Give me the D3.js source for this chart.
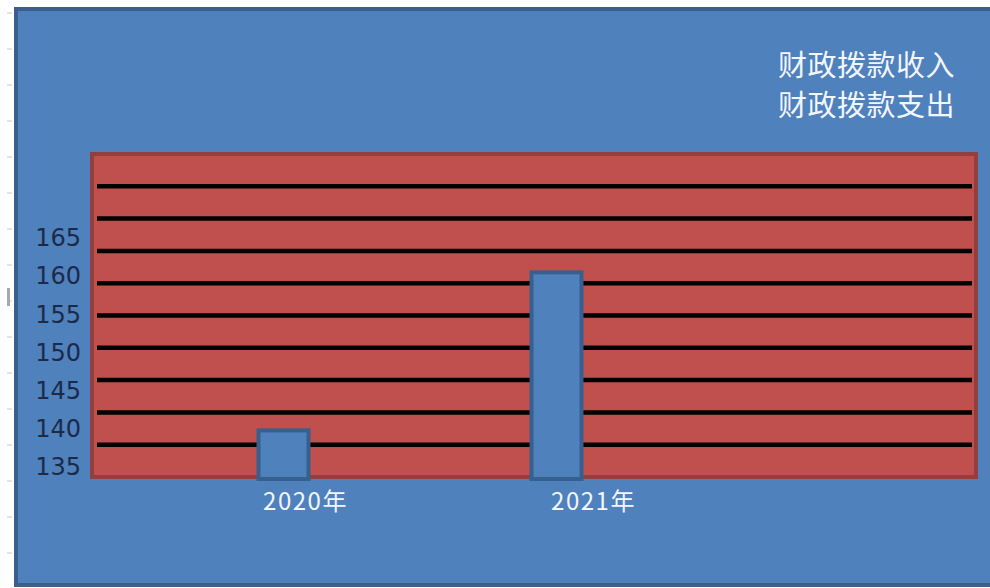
<!DOCTYPE html>
<html>
<head>
<meta charset="utf-8">
<script src="https://cdn.jsdelivr.net/npm/d3@7"></script>
<style>
  body { margin: 0; background: #fff; }
  svg { display: block; }
</style>
</head>
<body>
<svg id="chart"></svg>
<script>
const years = ["2020年", "2021年"];
const income = [139.8, 160.5];
const seriesNames = ["财政拨款收入", "财政拨款支出"];
const tickLabels = [135, 140, 145, 150, 155, 160, 165];
const gridValues = [140, 145, 150, 155, 160, 165, 170, 175, 180];

const size = { width: 990, height: 588 };
const plot = { left: 92, right: 976, top: 154, bottom: 477 };

const svg = d3.select("#chart")
  .attr("width", size.width)
  .attr("height", size.height);

// spreadsheet ruler on the left edge
svg.selectAll(".ruler")
  .data(d3.range(13, 588, 36))
  .join("line")
  .attr("x1", 7).attr("x2", 12)
  .attr("y1", d => d).attr("y2", d => d)
  .attr("stroke", "#c8c8c8");
svg.append("rect")
  .attr("x", 7).attr("y", 288).attr("width", 3).attr("height", 18)
  .attr("fill", "#a8a8a8");

// chart area
svg.append("rect")
  .attr("x", 16).attr("y", 9)
  .attr("width", 990).attr("height", 576)
  .attr("fill", "#4f81bd")
  .attr("stroke", "#3a5f8c")
  .attr("stroke-width", 4);

// scales: gridlines and labels in the original do not share spacing
const yGrid = d3.scaleLinear()
  .domain([135, 185])
  .range([plot.bottom, plot.top]);

const y = d3.scaleLinear()
  .domain([135, 165])
  .range([467, 238]);

const x = d3.scalePoint()
  .domain(years)
  .range([283.5, 556.5]);

const barWidth = 50;

// plot area
svg.append("rect")
  .attr("x", plot.left).attr("y", plot.top)
  .attr("width", plot.right - plot.left)
  .attr("height", plot.bottom - plot.top)
  .attr("fill", "#c0504d")
  .attr("stroke", "#93403d")
  .attr("stroke-width", 4);

svg.append("g")
  .selectAll("line")
  .data(gridValues)
  .join("line")
  .attr("x1", plot.left + 5)
  .attr("x2", plot.right - 4)
  .attr("y1", d => yGrid(d))
  .attr("y2", d => yGrid(d))
  .attr("stroke", "#000")
  .attr("stroke-width", 4.5);

// bars
svg.append("g")
  .selectAll("rect")
  .data(income)
  .join("rect")
  .attr("x", (d, i) => x(years[i]) - barWidth / 2)
  .attr("y", d => y(d))
  .attr("width", barWidth)
  .attr("height", d => plot.bottom + 2 - y(d))
  .attr("fill", "#4f81bd")
  .attr("stroke", "#37608f")
  .attr("stroke-width", 4);

// y labels
const yAxis = d3.axisLeft(y).tickValues(tickLabels).tickSize(0).tickPadding(0);
const gy = svg.append("g")
  .attr("transform", "translate(81,0)")
  .call(yAxis);
gy.select(".domain").remove();
gy.selectAll("text")
  .attr("fill", "#1c2a4a")
  .attr("font-family", "DejaVu Sans, sans-serif")
  .attr("font-size", 24);

// x labels
svg.append("g")
  .selectAll("text")
  .data(years)
  .join("text")
  .attr("x", (d, i) => x(d) + 22 + i * 15)
  .attr("y", 510)
  .attr("text-anchor", "middle")
  .attr("fill", "#f2f6ff")
  .attr("font-family", "Noto Sans CJK SC, sans-serif")
  .attr("font-size", 24)
  .attr("letter-spacing", 1.5)
  .text(d => d);

// legend text (no swatches in the original)
svg.append("g")
  .selectAll("text")
  .data(seriesNames)
  .join("text")
  .attr("x", 955)
  .attr("y", (d, i) => 76 + i * 40)
  .attr("text-anchor", "end")
  .attr("fill", "#f2f6ff")
  .attr("font-family", "Noto Sans CJK SC, sans-serif")
  .attr("font-size", 29)
  .attr("letter-spacing", 0.5)
  .text(d => d);
</script>
</body>
</html>
